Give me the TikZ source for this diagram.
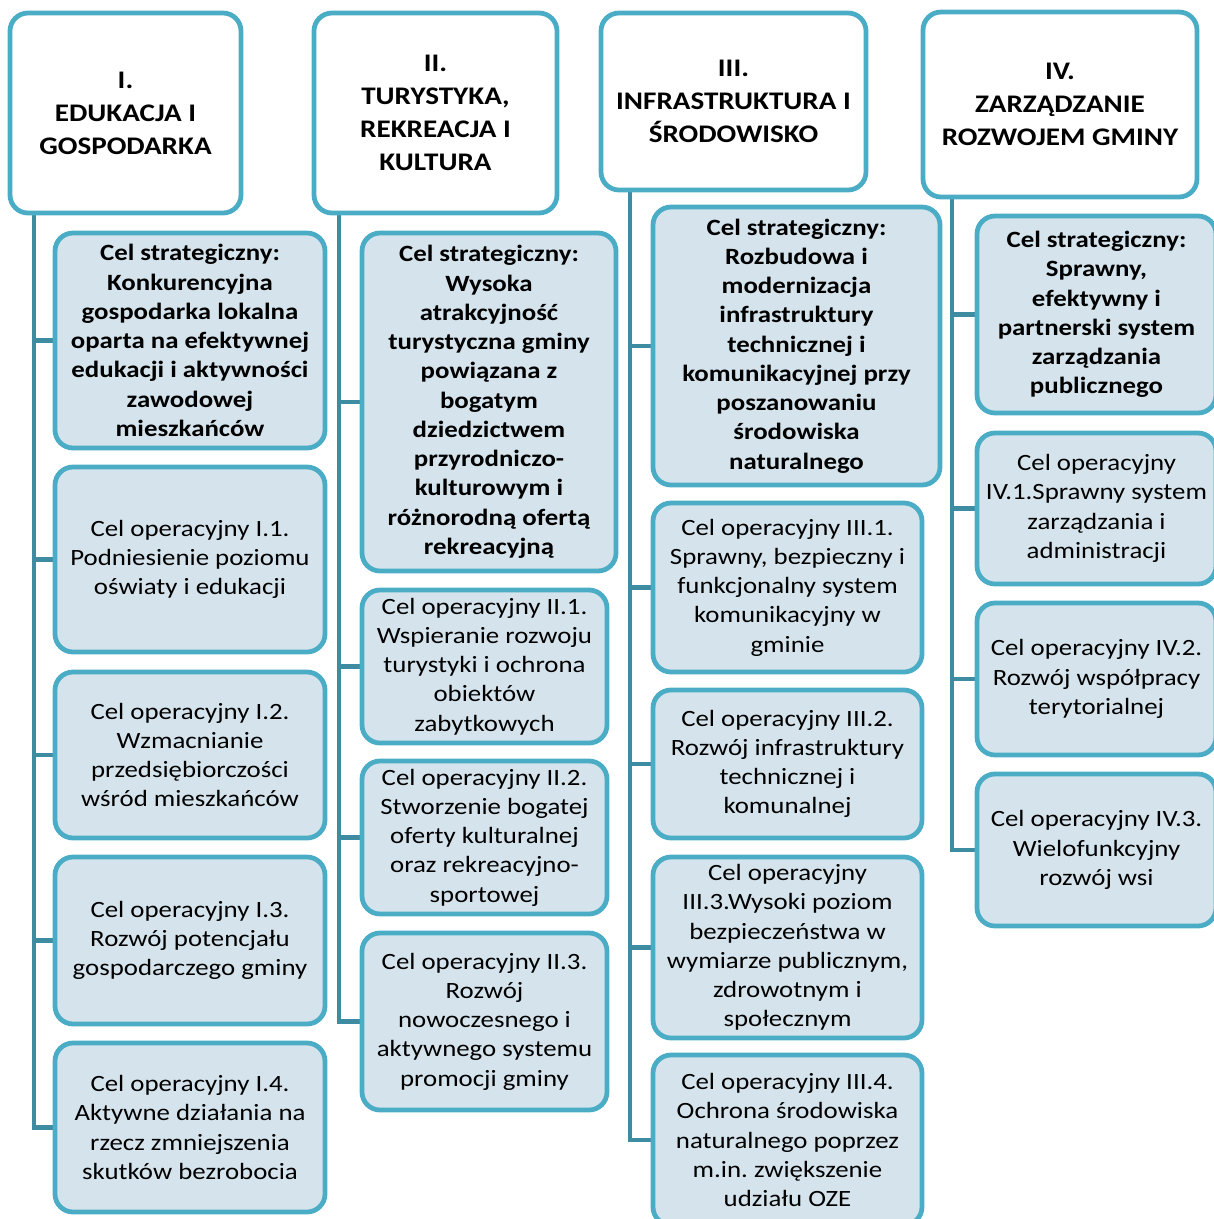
\documentclass[tikz,border=0pt]{standalone}
\usepackage{fontspec}
\setmainfont{Carlito}[FakeStretch=1.15]
\usetikzlibrary{backgrounds}
\definecolor{cEdge}{RGB}{75,172,198}
\definecolor{cFill}{RGB}{213,228,236}
\definecolor{cTrunk}{RGB}{62,140,162}
\newdimen\px \px=0.025cm
\frenchspacing

\begin{document}
\begin{tikzpicture}[x=0.025cm, y=-0.025cm,
            box/.style 2 args={draw=cEdge, line width=3.4pt, rounded corners=0.45cm, align=center, inner sep=0pt, minimum width=#1\px, minimum height=#2\px},
            hdr/.style={fill=white, font=\bfseries\fontsize{18}{23.5}\selectfont},
            strat/.style={fill=cFill, font=\bfseries\fontsize{16.6}{20.8}\selectfont},
            op/.style={fill=cFill, font=\fontsize{16.6}{20.8}\selectfont},
            trunk/.style={draw=cTrunk, line width=3pt}]
            \useasboundingbox (0,0) rectangle (1213,1219);
            % column I
            \node[box={231}{200}, hdr] (h1) at (125.5,113) {I.\\EDUKACJA I\\GOSPODARKA};
            \node[box={270}{215}, strat] (s1) at (190,340.5) {Cel strategiczny:\\Konkurencyjna\\gospodarka lokalna\\oparta na efektywnej\\edukacji i aktywności\\zawodowej\\mieszkańców};
            \node[box={270}{185}, op] (o11) at (190,559.5) {Cel operacyjny I.1.\\Podniesienie poziomu\\oświaty i edukacji};
            \node[box={270}{166}, op] (o12) at (190,755) {Cel operacyjny I.2.\\Wzmacnianie\\przedsiębiorczości\\wśród mieszkańców};
            \node[box={270}{167}, op] (o13) at (190,940.5) {Cel operacyjny I.3.\\Rozwój potencjału\\gospodarczego gminy};
            \node[box={270}{169}, op] (o14) at (190,1127.5) {Cel operacyjny I.4.\\Aktywne działania na\\rzecz zmniejszenia\\skutków bezrobocia};
            % column II
            \node[box={243}{200}, hdr] (h2) at (435.5,113) {II.\\TURYSTYKA,\\REKREACJA I\\KULTURA};
            \node[box={254}{338}, strat] (s2) at (489,402) {Cel strategiczny:\\Wysoka\\atrakcyjność\\turystyczna gminy\\powiązana z\\bogatym\\dziedzictwem\\przyrodniczo-\\kulturowym i\\różnorodną ofertą\\rekreacyjną};
            \node[box={245}{153}, op] (o21) at (484.5,666.5) {Cel operacyjny II.1.\\Wspieranie rozwoju\\turystyki i ochrona\\obiektów\\zabytkowych};
            \node[box={245}{153}, op] (o22) at (484.5,837.5) {Cel operacyjny II.2.\\Stworzenie bogatej\\oferty kulturalnej\\oraz rekreacyjno-\\sportowej};
            \node[box={245}{177}, op] (o23) at (484.5,1021.5) {Cel operacyjny II.3.\\Rozwój\\nowoczesnego i\\aktywnego systemu\\promocji gminy};
            % column III
            \node[box={265}{177}, hdr] (h3) at (733.5,101.5) {III.\\INFRASTRUKTURA I\\ŚRODOWISKO};
            \node[box={287}{278}, strat] (s3) at (796.5,346) {Cel strategiczny:\\Rozbudowa i\\modernizacja\\infrastruktury\\technicznej i\\komunikacyjnej przy\\poszanowaniu\\środowiska\\naturalnego};
            \node[box={269}{169}, op] (o31) at (787.5,587.5) {Cel operacyjny III.1.\\Sprawny, bezpieczny i\\funkcjonalny system\\komunikacyjny w\\gminie};
            \node[box={269}{148}, op] (o32) at (787.5,764) {Cel operacyjny III.2.\\Rozwój infrastruktury\\technicznej i\\komunalnej};
            \node[box={269}{181}, op] (o33) at (787.5,947.5) {Cel operacyjny\\III.3.Wysoki poziom\\bezpieczeństwa w\\wymiarze publicznym,\\zdrowotnym i\\społecznym};
            \node[box={269}{170}, op] (o34) at (787.5,1140) {Cel operacyjny III.4.\\Ochrona środowiska\\naturalnego poprzez\\m.in. zwiększenie\\udziału OZE};
            % column IV
            \node[box={274}{185}, hdr] (h4) at (1060,104.5) {IV.\\ZARZĄDZANIE\\ROZWOJEM GMINY};
            \node[box={239}{197}, strat] (s4) at (1096.5,314.5) {Cel strategiczny:\\Sprawny,\\efektywny i\\partnerski system\\zarządzania\\publicznego};
            \node[box={239}{151}, op] (o41) at (1096.5,508.5) {Cel operacyjny\\IV.1.Sprawny system\\zarządzania i\\administracji};
            \node[box={239}{152}, op] (o42) at (1096.5,679) {Cel operacyjny IV.2.\\Rozwój współpracy\\terytorialnej};
            \node[box={239}{152}, op] (o43) at (1096.5,850) {Cel operacyjny IV.3.\\Wielofunkcyjny\\rozwój wsi};
            % trunks
            \coordinate (t1) at (34,0);
            \coordinate (t2) at (339,0);
            \coordinate (t3) at (630,0);
            \coordinate (t4) at (952,0);
            \begin{scope}[on background layer]
                \draw[trunk] (h1.south -| t1) |- (o14.west);
                \foreach \b in {s1,o11,o12,o13} { \draw[trunk] (\b.west -| t1) -- (\b.west); }
                \draw[trunk] (h2.south -| t2) |- (o23.west);
                \foreach \b in {s2,o21,o22} { \draw[trunk] (\b.west -| t2) -- (\b.west); }
                \draw[trunk] (h3.south -| t3) |- (o34.west);
                \foreach \b in {s3,o31,o32,o33} { \draw[trunk] (\b.west -| t3) -- (\b.west); }
                \draw[trunk] (h4.south -| t4) |- (o43.west);
                \foreach \b in {s4,o41,o42} { \draw[trunk] (\b.west -| t4) -- (\b.west); }
            \end{scope}
        \end{tikzpicture}
\end{document}
